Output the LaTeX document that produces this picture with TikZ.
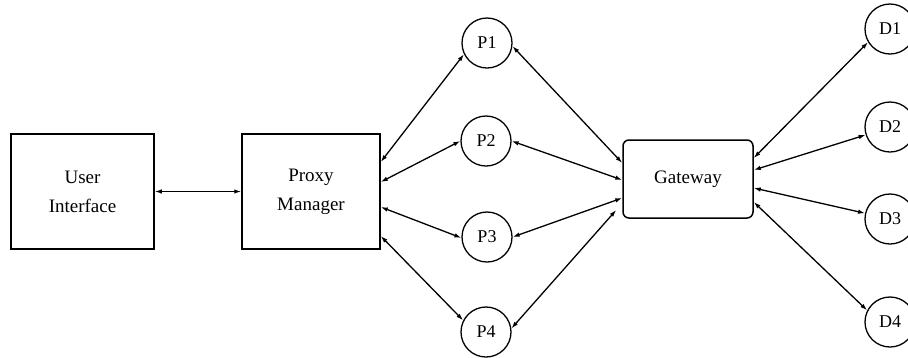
\documentclass[tikz,border=0pt]{standalone}
\usepackage{fontspec}
\setmainfont{Liberation Serif}
\usetikzlibrary{arrows.meta}

\tikzset{
  box/.style={draw, line width=1.5pt, rectangle, align=center,
    inner sep=0pt, font=\fontsize{19}{29}\selectfont},
  gwbox/.style={box, rounded corners=6pt},
  station/.style={draw, line width=1.3pt, circle, inner sep=0pt,
    minimum size=50pt, font=\fontsize{18}{22}\selectfont},
  link/.style={line width=1.3pt, {Latex[length=7pt,width=4.5pt]}-{Latex[length=7pt,width=4.5pt]}}
}

\begin{document}
\begin{tikzpicture}[x=1pt, y=-1pt]
  \useasboundingbox (0,0) rectangle (908,357);

  % main boxes
  \node[box, minimum width=143pt, minimum height=115pt] (ui) at (82.5,191.5) {User\\Interface};
  \node[box, minimum width=138pt, minimum height=115pt] (pm) at (311,191.5) {Proxy\\Manager};
  \node[gwbox, minimum width=130pt, minimum height=78pt] (gw) at (688,179) {Gateway};

  % proxies
  \node[station] (p1) at (487,43)  {P1};
  \node[station] (p2) at (486,141) {P2};
  \node[station] (p3) at (487,237) {P3};
  \node[station] (p4) at (486,332) {P4};

  % devices
  \node[station] (d1) at (890,29)  {D1};
  \node[station] (d2) at (890,127) {D2};
  \node[station] (d3) at (890,219) {D3};
  \node[station] (d4) at (890,322) {D4};

  % user interface to proxy manager
  \draw[link] (ui.east) -- (pm.west);

  % proxy manager to proxies
  \draw[link] ([yshift=29.5pt]pm.east)  -- (p1.206);
  \draw[link] ([yshift=9.5pt]pm.east)   -- (p2.180);
  \draw[link] ([yshift=-15.5pt]pm.east) -- (p3.182);
  \draw[link] ([yshift=-44.5pt]pm.east) -- (p4.153);

  % proxies to gateway
  \draw[link] (p1.353) -- ([yshift=16pt]gw.west);
  \draw[link] (p2.0)   -- ([yshift=-1pt]gw.west);
  \draw[link] (p3.0)   -- ([yshift=-19pt]gw.west);
  \draw[link] (p4.8)   -- ([xshift=-6pt,yshift=-31pt]gw.west);

  % gateway to devices
  \draw[link] ([yshift=21pt]gw.east)  -- (d1.211);
  \draw[link] ([yshift=9pt]gw.east)   -- (d2.198);
  \draw[link] ([yshift=-9pt]gw.east)  -- (d3.167);
  \draw[link] ([yshift=-23pt]gw.east) -- (d4.153);
\end{tikzpicture}
\end{document}
